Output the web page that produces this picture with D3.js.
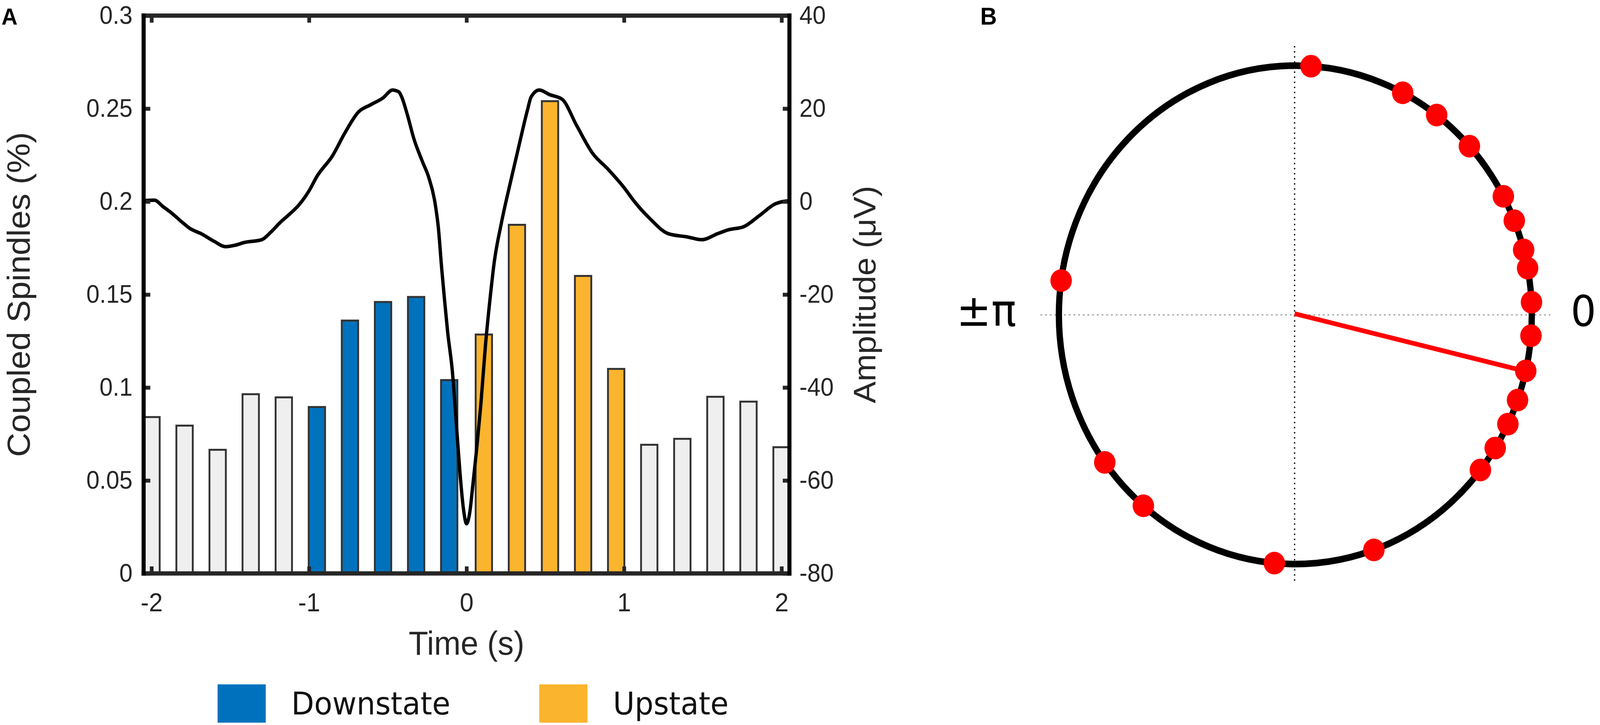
<!DOCTYPE html>
<html>
<head>
<meta charset="utf-8">
<script src="https://cdn.jsdelivr.net/npm/d3@7"></script>
<style>
  html, body { margin: 0; padding: 0; background: #ffffff; overflow: hidden; width: 100%; height: 100%; }
  svg { display: block; position: fixed; left: 0; top: 0; width: 100vw; height: 100vh; }
</style>
</head>
<body>
<svg id="chart" viewBox="0 0 4317 1856" preserveAspectRatio="none"></svg>
<script>
// ---------------- DATA ----------------
// Panel A: histogram of coupled spindles (bin centres in s)
const binCenters = [-2.0, -1.79, -1.58, -1.37, -1.16, -0.95, -0.74, -0.53, -0.32, -0.11,
                     0.11, 0.32, 0.53, 0.74, 0.95, 1.16, 1.37, 1.58, 1.79, 2.0];
const binValues  = [0.0841, 0.0795, 0.0665, 0.0964, 0.0947, 0.0895, 0.136, 0.146, 0.1487, 0.104,
                    0.1285, 0.1875, 0.254, 0.160, 0.110, 0.0692, 0.0724, 0.095, 0.0924, 0.0679];
const binState   = ["none","none","none","none","none","down","down","down","down","down",
                    "up","up","up","up","up","none","none","none","none","none"];
// Panel A: averaged slow-oscillation waveform (time s, amplitude µV)
const waveTime = [-2.05, -1.98, -1.93, -1.875, -1.80, -1.76, -1.68, -1.60, -1.53, -1.47, -1.41, -1.30,
                  -1.24, -1.18, -1.12, -1.066, -1.0, -0.95, -0.85, -0.77, -0.685, -0.61, -0.53, -0.47,
                  -0.43, -0.414, -0.375, -0.335, -0.28, -0.24, -0.20, -0.178, -0.158, -0.14, -0.12,
                  -0.09, -0.06, -0.04, -0.02, 0.0, 0.02, 0.04, 0.065, 0.09, 0.12, 0.157, 0.171, 0.222,
                  0.277, 0.332, 0.387, 0.41, 0.462, 0.528, 0.607, 0.70, 0.80, 0.90, 1.0, 1.066, 1.165,
                  1.28, 1.40, 1.495, 1.595, 1.66, 1.76, 1.86, 1.96, 2.05];
const waveAmp  = [0.2, 0.3, -1.0, -2.4, -4.6, -5.7, -7.0, -8.6, -9.7, -9.4, -8.8, -8.2,
                  -6.5, -4.4, -2.6, -0.8, 2.3, 5.4, 9.9, 14.9, 19.3, 20.8, 22.3, 24.0,
                  23.6, 22.7, 18.6, 13.6, 8.6, 5.2, -0.3, -5.9, -14.3, -21.0, -28.0,
                  -36.5, -50.0, -59.0, -66.0, -69.3, -67.0, -61.0, -53.0, -44.0, -31.0, -18.5, -14.3, -4.5,
                  3.9, 11.9, 19.7, 22.5, 24.0, 23.0, 22.0, 16.3, 10.4, 6.9, 3.0, 0.0, -3.7,
                  -6.9, -7.6, -8.2, -6.9, -6.1, -5.4, -3.0, -0.5, 0.2];
const xTicks      = [-2, -1, 0, 1, 2];
const yLeftTicks  = [0, 0.05, 0.1, 0.15, 0.2, 0.25, 0.3];
const yRightTicks = [-80, -60, -40, -20, 0, 20, 40];
const legendItems = [{key: "down", label: "Downstate"}, {key: "up", label: "Upstate"}];
// Panel B: preferred coupling phases (degrees, 0 = right, counter-clockwise positive)
const phaseDeg = [86.2, 63.0, 53.3, 42.6, 28.4, 22.2, 15.1, 10.8, 2.9, -4.8,
                  -13.0, -20.0, -26.0, -32.3, -38.5, -70.6, -95.1, -130.0, -143.7, 172.1];
const meanPhaseDeg = -13.1;
const meanLength = 1.0;

// ---------------- STYLE ----------------
const colors = { none: "#efefef", down: "#0072bd", up: "#fbb42d" };
const textColor = "#262626";
const sans = "'Liberation Sans', Arial, Helvetica, sans-serif";
const dejavu = "'DejaVu Sans', Verdana, sans-serif";
const plain = d => String(d);   // hyphen-minus like the original

const svg = d3.select("#chart");

// ---------------- PANEL A ----------------
const L = 387.5, R = 2130, T = 40, B = 1468;
const x  = d3.scaleLinear().domain([-2.05, 2.05]).range([L, R]);
const yL = d3.scaleLinear().domain([0, 0.3]).range([B, T]);
const yR = d3.scaleLinear().domain([-80, 40]).range([B, T]);
const barW = x(0.104) - x(0);

svg.append("defs").append("clipPath").attr("id", "plotClip")
  .append("rect").attr("x", L).attr("y", T).attr("width", R - L).attr("height", B - T);

const plot = svg.append("g").attr("clip-path", "url(#plotClip)");

plot.selectAll("rect.bar")
  .data(binCenters.map((c, i) => ({c, v: binValues[i], s: binState[i]})))
  .enter().append("rect")
  .attr("class", "bar")
  .attr("x", d => x(d.c) - barW / 2)
  .attr("y", d => yL(d.v))
  .attr("width", barW)
  .attr("height", d => yL(0) - yL(d.v))
  .attr("fill", d => colors[d.s])
  .attr("stroke", "#333333")
  .attr("stroke-width", 5);

const line = d3.line()
  .x(d => x(d[0]))
  .y(d => yR(d[1]))
  .curve(d3.curveMonotoneX);

plot.append("path")
  .datum(waveTime.map((t, i) => [t, waveAmp[i]]))
  .attr("d", line)
  .attr("fill", "none")
  .attr("stroke", "#000")
  .attr("stroke-width", 9)
  .attr("stroke-linejoin", "round");

// axes
function styleAxis(g, fs) {
  g.select(".domain").remove();
  g.selectAll(".tick line").attr("stroke", textColor).attr("stroke-width", 10);
  g.selectAll(".tick text").attr("fill", textColor).style("font-family", sans).style("font-size", fs + "px");
}

svg.append("g").attr("transform", `translate(0,${B})`)
  .call(d3.axisBottom(x).tickValues(xTicks).tickFormat(plain).tickSize(-18).tickPadding(49))
  .call(g => styleAxis(g, 67));

svg.append("g").attr("transform", `translate(0,${T})`)
  .call(d3.axisTop(x).tickValues(xTicks).tickFormat("").tickSize(-18))
  .call(g => styleAxis(g, 67));

svg.append("g").attr("transform", `translate(${L},0)`)
  .call(d3.axisLeft(yL).tickValues(yLeftTicks).tickFormat(plain).tickSize(-18).tickPadding(30))
  .call(g => styleAxis(g, 64));

svg.append("g").attr("transform", `translate(${R},0)`)
  .call(d3.axisRight(yR).tickValues(yRightTicks).tickFormat(plain).tickSize(-18).tickPadding(27))
  .call(g => styleAxis(g, 64));

// box
const box = svg.append("g").attr("fill", "none").attr("stroke-width", 11).attr("stroke-linecap", "square");
box.append("line").attr("x1", L).attr("x2", R).attr("y1", B).attr("y2", B).attr("stroke", textColor);
box.append("line").attr("x1", L).attr("x2", R).attr("y1", T).attr("y2", T).attr("stroke", textColor);
box.append("line").attr("x1", L).attr("x2", L).attr("y1", T).attr("y2", B).attr("stroke", "#000");
box.append("line").attr("x1", R).attr("x2", R).attr("y1", T).attr("y2", B).attr("stroke", "#000");

// axis titles
svg.append("text")
  .attr("transform", `translate(80,${(T + B) / 2}) rotate(-90)`)
  .attr("text-anchor", "middle")
  .style("font-family", sans).style("font-size", "86px").attr("fill", textColor)
  .text("Coupled Spindles (%)");

svg.append("text")
  .attr("transform", `translate(2362,${(T + B) / 2}) rotate(-90)`)
  .attr("text-anchor", "middle")
  .style("font-family", sans).style("font-size", "84px").attr("fill", textColor)
  .text("Amplitude (\u03bcV)");

svg.append("text")
  .attr("x", x(0)).attr("y", 1676)
  .attr("text-anchor", "middle")
  .style("font-family", sans).style("font-size", "86px").attr("fill", textColor)
  .text("Time (s)");

// legend
const legendX = [587, 1455];
const leg = svg.append("g").selectAll("g").data(legendItems).enter().append("g")
  .attr("transform", (d, i) => `translate(${legendX[i]},1752)`);
leg.append("rect").attr("width", 130).attr("height", 98).attr("fill", d => colors[d.key]);
leg.append("text").attr("x", 199).attr("y", 77)
  .style("font-family", dejavu).style("font-size", "80px").attr("fill", "#111")
  .text(d => d.label);

// panel letters
svg.append("text").attr("x", 4).attr("y", 63)
  .style("font-family", sans).style("font-weight", "bold").style("font-size", "60px").attr("fill", "#000")
  .text("A");
svg.append("text").attr("x", 2645).attr("y", 63)
  .style("font-family", sans).style("font-weight", "bold").style("font-size", "62px").attr("fill", "#000")
  .text("B");

// ---------------- PANEL B ----------------
const cx = 3495, cy = 806, radius = 638;
const rScale = d3.scaleLinear().domain([0, 1]).range([0, radius]);
const toXY = (deg, r) => {
  const p = d3.pointRadial(Math.PI / 2 - deg * Math.PI / 180, rScale(r));
  return [cx + p[0], cy + p[1]];
};

const polar = svg.append("g");
polar.append("line")
  .attr("x1", 2807).attr("x2", 4183).attr("y1", cy).attr("y2", cy)
  .attr("stroke", "#b3b3b3").attr("stroke-width", 4).attr("stroke-dasharray", "5 7.7");
polar.append("line")
  .attr("x1", cx - 2).attr("x2", cx - 2).attr("y1", 118).attr("y2", 1491)
  .attr("stroke", "#000").attr("stroke-width", 3.5).attr("stroke-dasharray", "3.5 9.5");

polar.append("circle")
  .attr("cx", cx).attr("cy", cy).attr("r", rScale(1))
  .attr("fill", "none").attr("stroke", "#000").attr("stroke-width", 17);

const mEnd = toXY(meanPhaseDeg, meanLength);
polar.append("line")
  .attr("x1", cx - 2).attr("y1", cy - 3).attr("x2", mEnd[0]).attr("y2", mEnd[1])
  .attr("stroke", "#ff0000").attr("stroke-width", 12);

polar.selectAll("circle.dot").data(phaseDeg).enter().append("circle")
  .attr("class", "dot")
  .attr("cx", d => toXY(d, 1)[0])
  .attr("cy", d => toXY(d, 1)[1])
  .attr("r", 29)
  .attr("fill", "#ff0000");

polar.append("text").attr("x", 4238).attr("y", 834)
  .style("font-family", dejavu).style("font-size", "108px").attr("fill", "#000")
  .text("0");
polar.append("text").attr("x", 2742).attr("y", 834).attr("text-anchor", "end")
  .style("font-family", dejavu).style("font-size", "112px").attr("fill", "#000")
  .text("\u00b1\u03c0");
</script>
</body>
</html>
